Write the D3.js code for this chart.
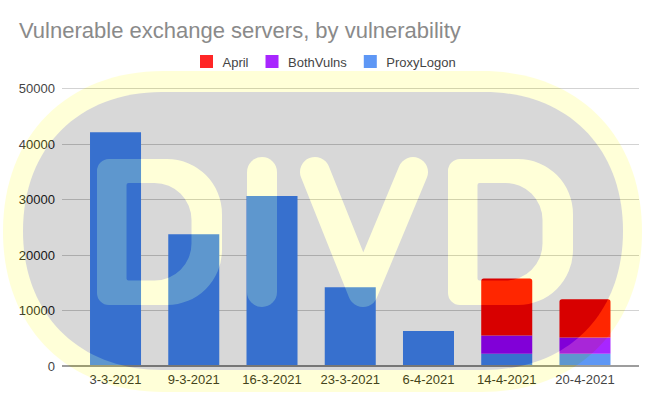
<!DOCTYPE html>
<html>
<head>
<meta charset="utf-8">
<script src="https://cdn.jsdelivr.net/npm/d3@7"></script>
<style>
  html, body { margin: 0; padding: 0; background: #ffffff; }
  svg { display: block; font-family: "Liberation Sans", Arial, sans-serif; }
</style>
</head>
<body>
<svg id="chart" width="660" height="407"></svg>
<script>
// ---- data ----
const categories = ["3-3-2021", "9-3-2021", "16-3-2021", "23-3-2021", "6-4-2021", "14-4-2021", "20-4-2021"];
const proxyLogon = [42100, 23700, 30600, 14200, 6300, 2200, 2200];
const bothVulns  = [0, 0, 0, 0, 0, 3300, 2950];
const april      = [0, 0, 0, 0, 0, 10250, 6850];
const seriesNames  = ["ProxyLogon", "BothVulns", "April"];   // stack order, bottom to top
const legendOrder  = ["April", "BothVulns", "ProxyLogon"];
const seriesColors = { ProxyLogon: "#4285f4", BothVulns: "#9900ff", April: "#ff0000" };
const yTicks = [0, 10000, 20000, 30000, 40000, 50000];
const titleText = "Vulnerable exchange servers, by vulnerability";

// ---- layout ----
const W = 660, H = 407;
const plot = { left: 62, right: 639, top: 88.3, bottom: 366 };
const svg = d3.select("#chart");

const rows = categories.map((c, i) => ({ cat: c, ProxyLogon: proxyLogon[i], BothVulns: bothVulns[i], April: april[i] }));
const stacked = d3.stack().keys(seriesNames)(rows);

const x = d3.scaleBand().domain(categories).range([76.4, 624.1]).paddingInner(0.348).paddingOuter(0.174);
const y = d3.scaleLinear().domain([0, 50000]).range([plot.bottom, plot.top]);

// gridlines
svg.append("g").selectAll("line").data(yTicks.filter(d => d > 0)).join("line")
  .attr("x1", plot.left).attr("x2", plot.right)
  .attr("y1", d => Math.round(y(d)) + 0.5).attr("y2", d => Math.round(y(d)) + 0.5)
  .attr("stroke", "#cccccc").attr("stroke-width", 1);

// bars
function barPath(x0, y0, w, h, r) {
  if (h <= 0) return "";
  r = Math.min(r, h);
  return `M${x0},${y0 + h} V${y0 + r} Q${x0},${y0} ${x0 + r},${y0} H${x0 + w - r} Q${x0 + w},${y0} ${x0 + w},${y0 + r} V${y0 + h} Z`;
}
const gBars = svg.append("g");
stacked.forEach(layer => {
  const key = layer.key;
  gBars.append("g").attr("fill", seriesColors[key]).selectAll("path")
    .data(layer.filter(d => d[1] - d[0] > 0)).join("path")
    .attr("d", d => {
      const top = y(d[1]), bot = y(d[0]);
      return barPath(x(d.data.cat), top, x.bandwidth(), bot - top, key === "April" ? 2.5 : 0);
    });
});

// baseline
svg.append("line").attr("x1", plot.left).attr("x2", plot.right)
  .attr("y1", y(0)).attr("y2", y(0)).attr("stroke", "#8c8c8c").attr("stroke-width", 2);

// y axis labels
const yAxis = d3.axisLeft(y).tickValues(yTicks).tickSize(0).tickPadding(0).tickFormat(d3.format("d"));
const gy = svg.append("g").attr("transform", `translate(55,0)`).call(yAxis);
gy.select(".domain").remove();
gy.selectAll("text").attr("fill", "#222222").attr("font-size", 13)
  .attr("font-family", "'Liberation Sans', Arial, sans-serif");

// x axis labels
const xAxis = d3.axisBottom(x).tickSize(0).tickPadding(0);
const gx = svg.append("g").attr("transform", `translate(0,${plot.bottom})`).call(xAxis);
gx.select(".domain").remove();
gx.selectAll("text").attr("fill", "#222222").attr("font-size", 13).attr("dy", "0").attr("y", 18)
  .attr("font-family", "'Liberation Sans', Arial, sans-serif");

// title
svg.append("text").attr("x", 19).attr("y", 38).attr("font-size", 22).attr("fill", "#757575")
  .text(titleText);

// legend
const gLeg = svg.append("g");
let lx = 200;
legendOrder.forEach(name => {
  gLeg.append("rect").attr("x", lx).attr("y", 55).attr("width", 13).attr("height", 13)
    .attr("fill", seriesColors[name]);
  const t = gLeg.append("text").attr("x", lx + 22.5).attr("y", 66.5).attr("font-size", 13)
    .attr("fill", "#222222").text(name);
  lx += 22.5 + t.node().getComputedTextLength() + 17;
});

// ---- DIVD watermark overlay (semi-transparent image laid over the chart) ----
function stadium(x0, y0, x1, y1, k) {
  const R = (y1 - y0) / 2, c = k * R;
  return `M${x0 + R},${y0} H${x1 - R} C${x1 - R + c},${y0} ${x1},${y0 + R - c} ${x1},${y0 + R}` +
    ` C${x1},${y0 + R + c} ${x1 - R + c},${y1} ${x1 - R},${y1} H${x0 + R}` +
    ` C${x0 + R - c},${y1} ${x0},${y0 + R + c} ${x0},${y0 + R} C${x0},${y0 + R - c} ${x0 + R - c},${y0} ${x0 + R},${y0} Z`;
}
function roundRect(x0, y0, w, h, rl, rr) {
  const x1 = x0 + w, y1 = y0 + h;
  return `M${x0 + rl},${y0} H${x1 - rr} A${rr},${rr} 0 0 1 ${x1},${y0 + rr} V${y1 - rr}` +
    ` A${rr},${rr} 0 0 1 ${x1 - rr},${y1} H${x0 + rl} A${rl},${rl} 0 0 1 ${x0},${y1 - rl} V${y0 + rl}` +
    ` A${rl},${rl} 0 0 1 ${x0 + rl},${y0} Z`;
}
function letterD(x0) {
  return roundRect(x0, 159, 125, 146, 12, 55) + " " + roundRect(x0 + 29.5, 183, 65, 97.5, 2, 37);
}
const wm = svg.append("g").attr("opacity", 0.15).style("pointer-events", "none");
wm.append("rect").attr("width", W).attr("height", H).attr("fill", "#ffffff");
wm.append("path").attr("d", stadium(3, 71, 642, 392, 0.6)).attr("fill", "#ffff00");
wm.append("path").attr("d", stadium(23, 92, 623, 370, 0.6)).attr("fill", "#000000");
const yel = wm.append("g").attr("fill", "#ffff00").attr("stroke", "#ffff00");
yel.append("path").attr("d", letterD(97)).attr("fill-rule", "evenodd").attr("stroke", "none");
yel.append("path").attr("d", letterD(448)).attr("fill-rule", "evenodd").attr("stroke", "none");
yel.append("path").attr("d", "M262,172 V292").attr("fill", "none")
  .attr("stroke-width", 30).attr("stroke-linecap", "round");
yel.append("path").attr("d", "M315,172 L363,292 L413,172").attr("fill", "none")
  .attr("stroke-width", 30).attr("stroke-linecap", "round").attr("stroke-linejoin", "round");
</script>
</body>
</html>
